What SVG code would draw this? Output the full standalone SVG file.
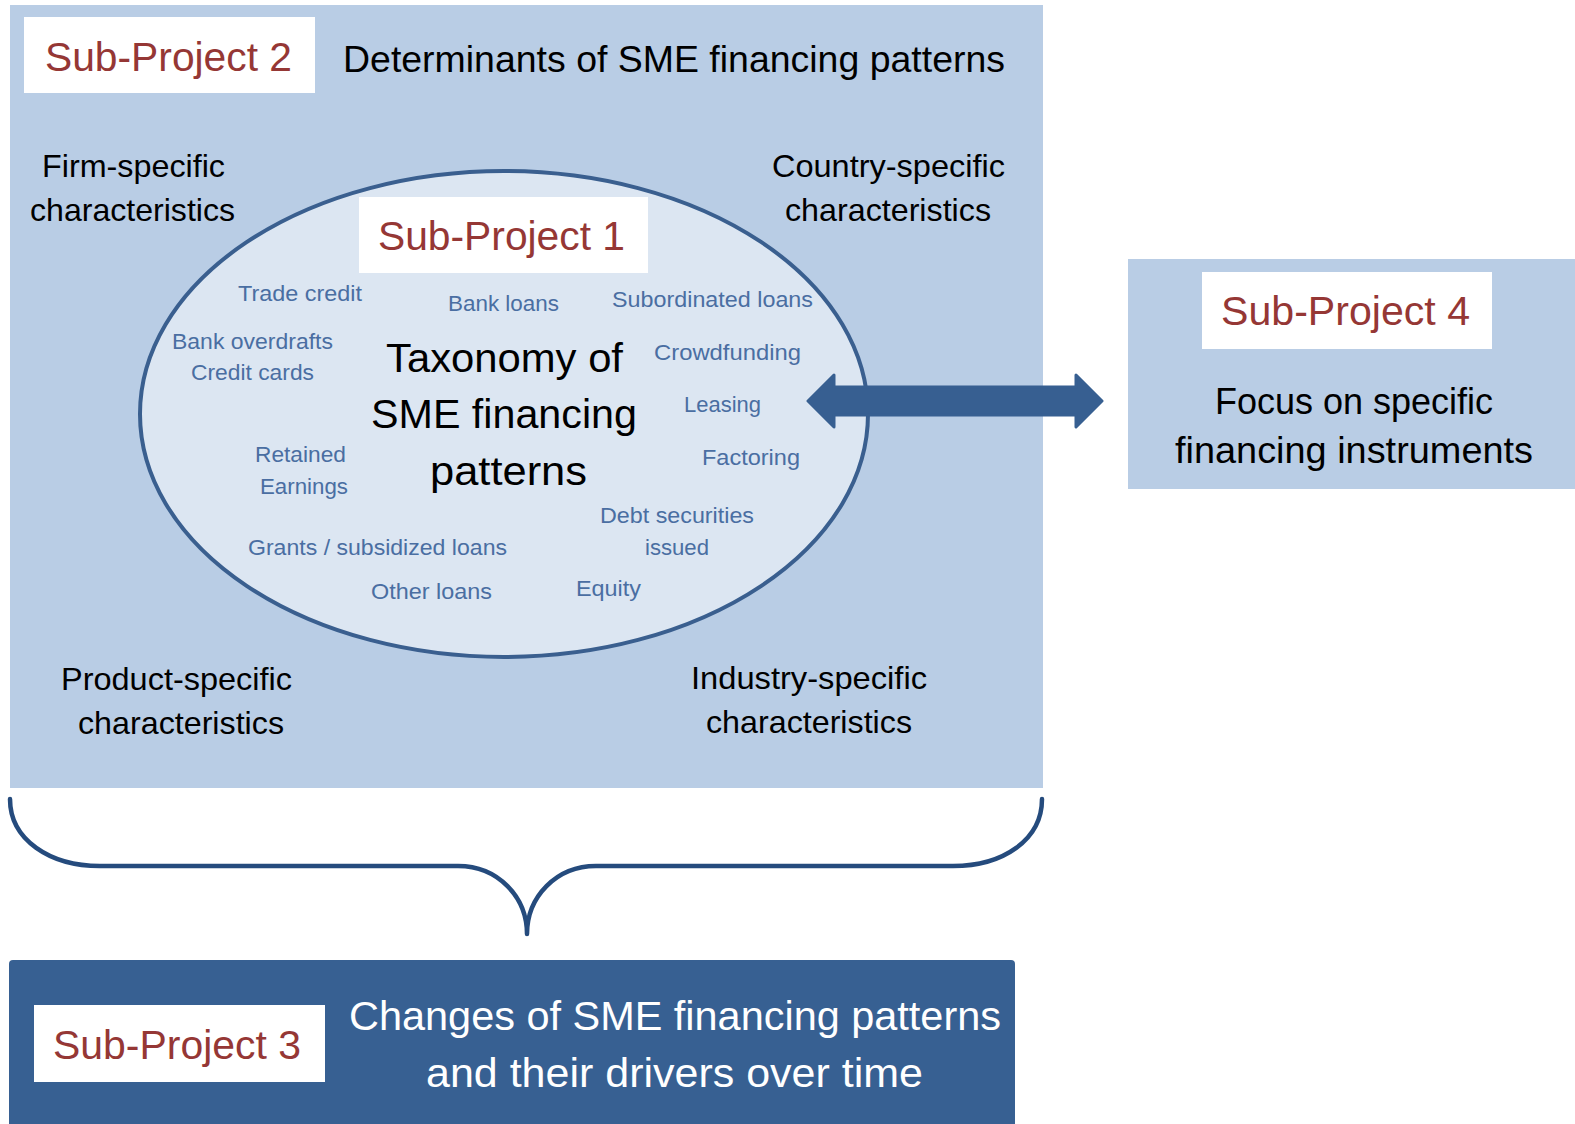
<svg xmlns="http://www.w3.org/2000/svg" width="1575" height="1124" viewBox="0 0 1575 1124">
<style>
text{font-family:"Liberation Sans",Arial,sans-serif;}
.lb{fill:#B9CDE5;}
.wb{fill:#FFFFFF;}
.sp{fill:#953735;font-size:40.5px;}
.blk{fill:#000000;}
.corner{fill:#000000;font-size:31.5px;}
.inst{fill:#4A6EA2;font-size:22.5px;}
.wht{fill:#FFFFFF;font-size:41.5px;}
.conn{fill:none;stroke:#254B7D;stroke-width:4.5;stroke-linecap:round;stroke-linejoin:round;}
</style>
<rect x="0" y="0" width="1575" height="1124" fill="#FFFFFF"/>

<g id="sp2">
<rect class="lb" x="10" y="5" width="1033" height="783"/>
<rect class="wb" x="24" y="17" width="291" height="76"/>
<text class="sp" x="45" y="71" textLength="247" lengthAdjust="spacingAndGlyphs">Sub-Project 2</text>
<text class="blk" x="343" y="72" font-size="36" textLength="662" lengthAdjust="spacingAndGlyphs">Determinants of SME financing patterns</text>
<text class="corner" x="42" y="177" textLength="183" lengthAdjust="spacingAndGlyphs">Firm-specific</text>
<text class="corner" x="30" y="221" textLength="205" lengthAdjust="spacingAndGlyphs">characteristics</text>
<text class="corner" x="772" y="177" textLength="233" lengthAdjust="spacingAndGlyphs">Country-specific</text>
<text class="corner" x="785" y="221" textLength="206" lengthAdjust="spacingAndGlyphs">characteristics</text>
<text class="corner" x="61" y="690" textLength="231" lengthAdjust="spacingAndGlyphs">Product-specific</text>
<text class="corner" x="78" y="734" textLength="206" lengthAdjust="spacingAndGlyphs">characteristics</text>
<text class="corner" x="691" y="689" textLength="236" lengthAdjust="spacingAndGlyphs">Industry-specific</text>
<text class="corner" x="706" y="733" textLength="206" lengthAdjust="spacingAndGlyphs">characteristics</text>
</g>

<g id="sp1">
<ellipse cx="504" cy="414" rx="364" ry="243" fill="#DCE6F2" stroke="#3A5F8F" stroke-width="4"/>
<rect class="wb" x="359" y="197" width="289" height="76"/>
<text class="sp" x="378" y="250" textLength="247" lengthAdjust="spacingAndGlyphs">Sub-Project 1</text>
<text class="blk" x="386" y="372" font-size="40.5" textLength="237" lengthAdjust="spacingAndGlyphs">Taxonomy of</text>
<text class="blk" x="371" y="428" font-size="40.5" textLength="266" lengthAdjust="spacingAndGlyphs">SME financing</text>
<text class="blk" x="430" y="485" font-size="40.5" textLength="157" lengthAdjust="spacingAndGlyphs">patterns</text>
<text class="inst" x="238" y="301" textLength="124" lengthAdjust="spacingAndGlyphs">Trade credit</text>
<text class="inst" x="448" y="311" textLength="111" lengthAdjust="spacingAndGlyphs">Bank loans</text>
<text class="inst" x="612" y="307" textLength="201" lengthAdjust="spacingAndGlyphs">Subordinated loans</text>
<text class="inst" x="172" y="349" textLength="161" lengthAdjust="spacingAndGlyphs">Bank overdrafts</text>
<text class="inst" x="191" y="380" textLength="123" lengthAdjust="spacingAndGlyphs">Credit cards</text>
<text class="inst" x="654" y="360" textLength="147" lengthAdjust="spacingAndGlyphs">Crowdfunding</text>
<text class="inst" x="684" y="412" textLength="77" lengthAdjust="spacingAndGlyphs">Leasing</text>
<text class="inst" x="702" y="465" textLength="98" lengthAdjust="spacingAndGlyphs">Factoring</text>
<text class="inst" x="255" y="462" textLength="91" lengthAdjust="spacingAndGlyphs">Retained</text>
<text class="inst" x="260" y="494" textLength="88" lengthAdjust="spacingAndGlyphs">Earnings</text>
<text class="inst" x="600" y="523" textLength="154" lengthAdjust="spacingAndGlyphs">Debt securities</text>
<text class="inst" x="645" y="555" textLength="64" lengthAdjust="spacingAndGlyphs">issued</text>
<text class="inst" x="248" y="555" textLength="259" lengthAdjust="spacingAndGlyphs">Grants / subsidized loans</text>
<text class="inst" x="371" y="599" textLength="121" lengthAdjust="spacingAndGlyphs">Other loans</text>
<text class="inst" x="576" y="596" textLength="65" lengthAdjust="spacingAndGlyphs">Equity</text>
</g>

<g id="sp4">
<rect class="lb" x="1128" y="259" width="447" height="230"/>
<rect class="wb" x="1202" y="272" width="290" height="77"/>
<text class="sp" x="1221" y="325" textLength="249" lengthAdjust="spacingAndGlyphs">Sub-Project 4</text>
<text class="blk" x="1215" y="414" font-size="36.5" textLength="278" lengthAdjust="spacingAndGlyphs">Focus on specific</text>
<text class="blk" x="1175" y="463" font-size="36.5" textLength="358" lengthAdjust="spacingAndGlyphs">financing instruments</text>
</g>

<g id="sp3">
<path d="M9,1124 L9,964 Q9,960 13,960 L1011,960 Q1015,960 1015,964 L1015,1124 Z" fill="#376092"/>
<rect class="wb" x="34" y="1005" width="291" height="77"/>
<text class="sp" x="53" y="1059" textLength="248" lengthAdjust="spacingAndGlyphs">Sub-Project 3</text>
<text class="wht" x="349" y="1030" textLength="652" lengthAdjust="spacingAndGlyphs">Changes of SME financing patterns</text>
<text class="wht" x="426" y="1087" textLength="497" lengthAdjust="spacingAndGlyphs">and their drivers over time</text>
</g>

<g id="connectors">
<path d="M808,401 L834,375 L834,387 L1076,387 L1076,375 L1102,401 L1076,427 L1076,415 L834,415 L834,427 Z" fill="#375F91" stroke="#375F91" stroke-width="3" stroke-linejoin="round"/>
<path class="conn" d="M10,799 C10,840 50,866 100,866 L458,866 C498,866 527,897 527,934 C527,897 556,866 596,866 L953,866 C1003,866 1042,840 1042,799"/>
</g>
</svg>
